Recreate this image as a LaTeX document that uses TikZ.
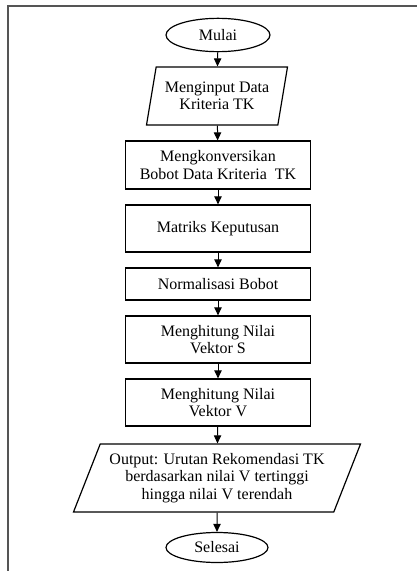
\documentclass[tikz,border=0pt]{standalone}
\usepackage{fontspec}
\setmainfont{Liberation Serif}
\usepackage{tikz}
\usetikzlibrary{shapes.geometric,arrows.meta}
\definecolor{FrameGrey}{HTML}{555555}
\definecolor{LineBlack}{HTML}{000000}
\tikzset{
    % Base node style
    basenode/.style={
        draw=LineBlack,
        fill=white,
        line width=0.9pt,
        inner sep=0pt,
        align=center,
        font=\fontsize{12}{13}\selectfont
    },
    % Start and end
    termnode/.style={
        basenode,
        ellipse,
        minimum width=78pt,
        minimum height=25pt
    },
    % Process step
    procnode/.style={
        basenode,
        rectangle,
        minimum width=138.75pt,
        minimum height=35.25pt
    },
    % Input and output
    ionode/.style={
        basenode,
        trapezium,
        trapezium stretches body,
        trapezium left angle=#1,
        trapezium right angle=180-#1
    },
    % Arrow style
    myarrow/.style={
        -{Triangle[length=6pt,width=5.5pt]},
        line width=0.75pt,
        draw=LineBlack
    },
    % Page frame
    frameline/.style={
        draw=FrameGrey,
        line width=1.5pt
    }
}
\begin{document}
\begin{tikzpicture}[x=0.75pt, y=-0.75pt]
        \useasboundingbox (0,0) rectangle (417,571);
        % Frame
        \draw[frameline] (8,571) -- (8,5.5) -- (417,5.5);

        % Flow steps
        \node[termnode] (mulai) at (218,35) {Mulai};
        \node[ionode=71, minimum width=105.75pt, minimum height=43.5pt] (input) at (217,96) {Menginput Data\\Kriteria TK};
        \node[procnode, minimum height=36pt] (konversi) at (218,165) {Mengkonversikan\\Bobot Data Kriteria~~TK};
        \node[procnode] (matriks) at (218,228.5) {Matriks Keputusan};
        \node[procnode, minimum height=24pt] (normal) at (218,284) {Normalisasi Bobot};
        \node[procnode] (vektors) at (218,339.5) {Menghitung Nilai\\Vektor S};
        \node[procnode] (vektorv) at (218,402.5) {Menghitung Nilai\\Vektor V};
        \node[ionode=61.5, minimum width=215.25pt, minimum height=51pt] (output) at (217,478) {Output: Urutan Rekomendasi TK\\berdasarkan nilai V tertinggi\\hingga nilai V terendah};
        \node[termnode, minimum width=76.5pt, minimum height=22.5pt] (selesai) at (217,547.5) {Selesai};

        % Connectors
        \draw[myarrow] (mulai) -- (input);
        \draw[myarrow] (input) -- (konversi);
        \draw[myarrow] (konversi) -- (matriks);
        \draw[myarrow] (matriks) -- (normal);
        \draw[myarrow] (normal) -- (vektors);
        \draw[myarrow] (vektors) -- (vektorv);
        \draw[myarrow] (vektorv) -- (output);
        \draw[myarrow] (output) -- (selesai);
\end{tikzpicture}
\end{document}
